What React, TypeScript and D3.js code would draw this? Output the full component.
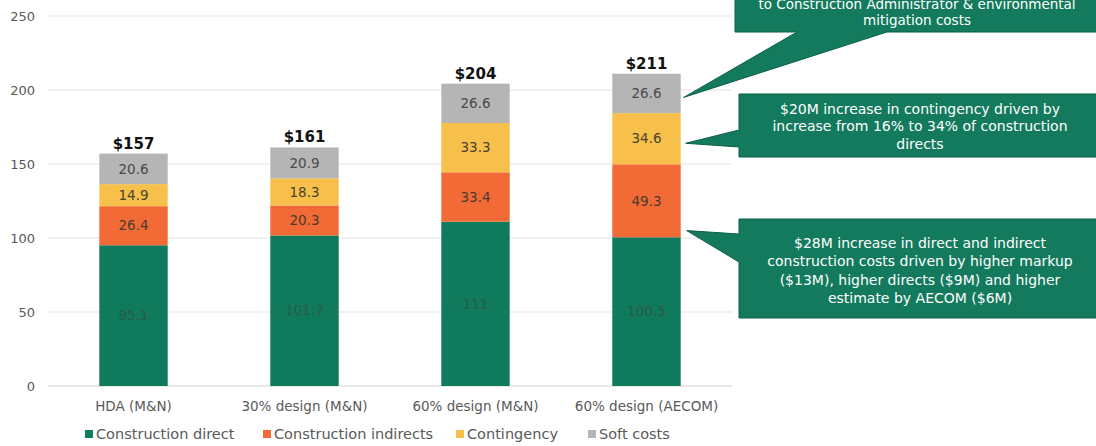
import React from 'react';
import * as d3 from 'd3';

// chart data
const categories = ['HDA (M&N)', '30% design (M&N)', '60% design (M&N)', '60% design (AECOM)'];
const seriesNames = ['Construction direct', 'Construction indirects', 'Contingency', 'Soft costs'];
const constructionDirect = [95.1, 101.7, 111, 100.5];
const constructionIndirects = [26.4, 20.3, 33.4, 49.3];
const contingency = [14.9, 18.3, 33.3, 34.6];
const softCosts = [20.6, 20.9, 26.6, 26.6];
const totalLabels = ['$157', '$161', '$204', '$211'];
const yTicks = [0, 50, 100, 150, 200, 250];

const colors = ['#107a5c', '#f26b36', '#f6c04a', '#b5b5b5'];
const labelColors = ['#2a5a4a', '#4a3a30', '#4a4030', '#4a4a4a'];
const FONT = "'Century Gothic', 'URW Gothic', 'DejaVu Sans', sans-serif";
const CALLOUT = '#137a5d';

const W = 1096;
const H = 446;

export default function App() {
  const x = d3.scaleBand<string>().domain(categories).range([48, 732]).paddingInner(0.6).paddingOuter(0.3);
  const y = d3.scaleLinear().domain([0, 250]).range([386, 16]);

  const rows = categories.map((c, i) => ({
    cat: c,
    v0: constructionDirect[i],
    v1: constructionIndirects[i],
    v2: contingency[i],
    v3: softCosts[i],
  }));
  const stack = d3.stack<any>().keys(['v0', 'v1', 'v2', 'v3'])(rows);

  const last = categories[3];
  const right = (x(last) ?? 0) + x.bandwidth();

  // callout tips anchored to the last bar
  const tip1 = [right + 3, y(195)];
  const tip2 = [right + 5, y(164)];
  const tip3 = [right + 6, y(105)];

  const legendX = [85, 263, 456, 588];

  return (
    <svg width={W} height={H} style={{ position: 'absolute', left: 0, top: 0, background: '#fff' }} fontFamily={FONT}>
      {/* grid */}
      {yTicks.map((t) => (
        <g key={t}>
          <line x1={48} x2={732} y1={y(t)} y2={y(t)} stroke={t === 0 ? '#d0d0d0' : '#e3e3e3'} strokeWidth={1} />
          <text x={35} y={y(t)} dy="0.35em" textAnchor="end" fontSize={13} fill="#595959">
            {t}
          </text>
        </g>
      ))}

      {/* bars */}
      {stack.map((s, si) => (
        <g key={si}>
          {s.map((d, i) => {
            const bx = x(categories[i]) ?? 0;
            const y0 = y(d[1]);
            const y1 = y(d[0]);
            const val = [constructionDirect, constructionIndirects, contingency, softCosts][si][i];
            return (
              <g key={i}>
                <rect x={bx} y={y0} width={x.bandwidth()} height={y1 - y0} fill={colors[si]} />
                <text
                  x={bx + x.bandwidth() / 2}
                  y={(y0 + y1) / 2}
                  dy="0.35em"
                  textAnchor="middle"
                  fontSize={13.5}
                  fill={labelColors[si]}
                >
                  {val}
                </text>
              </g>
            );
          })}
        </g>
      ))}

      {/* totals */}
      {categories.map((c, i) => {
        const top = y(constructionDirect[i] + constructionIndirects[i] + contingency[i] + softCosts[i]);
        return (
          <text
            key={c}
            x={(x(c) ?? 0) + x.bandwidth() / 2}
            y={top - 5}
            textAnchor="middle"
            fontSize={15}
            fontWeight="bold"
            fill="#111"
          >
            {totalLabels[i]}
          </text>
        );
      })}

      {/* category labels */}
      {categories.map((c) => (
        <text key={c} x={(x(c) ?? 0) + x.bandwidth() / 2} y={406} dy="0.35em" textAnchor="middle" fontSize={13.5} fill="#595959">
          {c}
        </text>
      ))}

      {/* legend */}
      {seriesNames.map((n, i) => (
        <g key={n} transform={`translate(${legendX[i]},434)`}>
          <rect x={0} y={-4} width={8} height={8} fill={colors[i]} />
          <text x={11} y={0} dy="0.35em" fontSize={14.5} fill="#595959">
            {n}
          </text>
        </g>
      ))}

      {/* callout 1 */}
      <path
        d={`M735,-20 L1100,-20 L1100,32 L887,32 L${tip1[0]},${tip1[1]} L797,32 L735,32 Z`}
        fill={CALLOUT}
        stroke="#0d5f47"
        strokeWidth={1}
      />
      <text x={917} y={4} dy="0.35em" textAnchor="middle" fontSize={13.5} fill="#fff">
        to Construction Administrator &amp; environmental
      </text>
      <text x={917} y={20} dy="0.35em" textAnchor="middle" fontSize={13.5} fill="#fff">
        mitigation costs
      </text>

      {/* callout 2 */}
      <path
        d={`M739,94 L1100,94 L1100,157 L739,157 L739,147 L${tip2[0]},${tip2[1]} L739,130 Z`}
        fill={CALLOUT}
        stroke="#0d5f47"
        strokeWidth={1}
      />
      {['$20M increase in contingency driven by', 'increase from 16% to 34% of construction', 'directs'].map((l, i) => (
        <text key={i} x={920} y={109 + i * 17.5} dy="0.35em" textAnchor="middle" fontSize={14} fill="#fff">
          {l}
        </text>
      ))}

      {/* callout 3 */}
      <path
        d={`M739,219 L1100,219 L1100,318 L739,318 L739,262 L${tip3[0]},${tip3[1]} L739,234 Z`}
        fill={CALLOUT}
        stroke="#0d5f47"
        strokeWidth={1}
      />
      {[
        '$28M increase in direct and indirect',
        'construction costs driven by higher markup',
        '($13M), higher directs ($9M) and higher',
        'estimate by AECOM ($6M)',
      ].map((l, i) => (
        <text key={i} x={920} y={243 + i * 18.3} dy="0.35em" textAnchor="middle" fontSize={14} fill="#fff">
          {l}
        </text>
      ))}
    </svg>
  );
}
